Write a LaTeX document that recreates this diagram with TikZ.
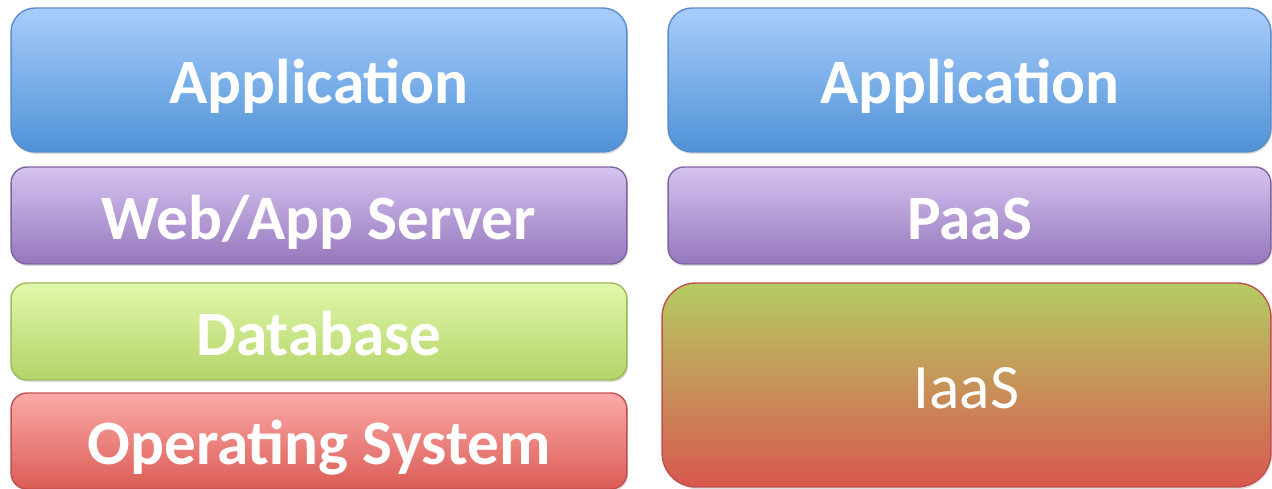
\documentclass[tikz,border=0pt]{standalone}
\usepackage{fontspec}
\setmainfont{Carlito}
\usetikzlibrary{shadows}

\definecolor{apptop}{HTML}{A8CDFB}
\definecolor{appbot}{HTML}{4F92D7}
\definecolor{appline}{HTML}{5A8CCB}
\definecolor{srvtop}{HTML}{D5C3EF}
\definecolor{srvbot}{HTML}{9677BD}
\definecolor{srvline}{HTML}{8064A2}
\definecolor{dbtop}{HTML}{E2F7AB}
\definecolor{dbbot}{HTML}{B3D468}
\definecolor{dbline}{HTML}{9BBB59}
\definecolor{ostop}{HTML}{FBAAA8}
\definecolor{osbot}{HTML}{DB5C55}
\definecolor{osline}{HTML}{C0504D}
\definecolor{iaastop}{HTML}{B4CC62}
\definecolor{iaasmid}{HTML}{C99B59}
\definecolor{iaasbot}{HTML}{D9584F}

\tikzset{
	layer/.style={rounded corners=#1, draw, line width=0.8pt, text=white, inner sep=0pt,
		font=\fontsize{36}{42}\selectfont\bfseries, text height=0.96cm, text depth=0pt,
		drop shadow={opacity=0.25, shadow xshift=0.6pt, shadow yshift=-1.2pt}},
	appbox/.style={layer=4.8mm, top color=apptop, bottom color=appbot, draw=appline, minimum height=2.88cm},
	srvbox/.style={layer=3.2mm, top color=srvtop, bottom color=srvbot, draw=srvline, minimum height=1.94cm},
	dbbox/.style={layer=3.2mm, top color=dbtop, bottom color=dbbot, draw=dbline, minimum height=1.94cm},
	osbox/.style={layer=3.2mm, top color=ostop, bottom color=osbot, draw=osline, minimum height=1.92cm},
	iaasbox/.style={layer=6.8mm, top color=iaastop, middle color=iaasmid, bottom color=iaasbot, draw=osline,
		minimum height=4.08cm, font=\fontsize{36}{42}\selectfont\mdseries}
}

\begin{document}
\begin{tikzpicture}[x=0.02cm, y=-0.02cm]
	\useasboundingbox (0,0) rectangle (1272,489);

	% traditional stack
	\node[appbox, minimum width=12.32cm] (app1) at (319,80) {Application};
	\node[srvbox, minimum width=12.32cm] (srv) at (319,215.5) {Web/App Server};
	\node[dbbox, minimum width=12.32cm] (db) at (319,331.5) {Database};
	\node[osbox, minimum width=12.32cm] (os) at (319,441) {Operating System};

	% cloud stack
	\node[appbox, minimum width=12.06cm] (app2) at (969.5,80) {Application};
	\node[srvbox, minimum width=12.06cm] (paas) at (969.5,215.5) {PaaS};
	\node[iaasbox, minimum width=12.18cm] (iaas) at (966.5,385) {IaaS};
\end{tikzpicture}
\end{document}
